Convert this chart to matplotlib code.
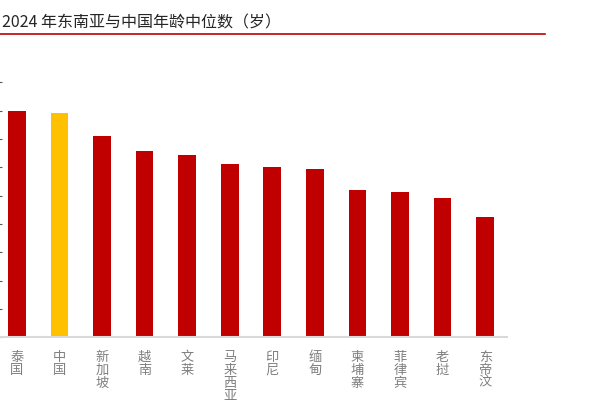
import numpy as np
import matplotlib
matplotlib.use("Agg")
import matplotlib.pyplot as plt

plt.rcParams['font.family'] = ['Noto Sans CJK SC', 'DejaVu Sans']

# datos
paises = ["泰国", "中国", "新加坡", "越南", "文莱", "马来西亚", "印尼", "缅甸",
          "柬埔寨", "菲律宾", "老挝", "东帝汶"]
edad_mediana = [40.0, 39.5, 35.5, 32.8, 32.2, 30.5, 30.0, 29.7, 25.9, 25.6, 24.5, 21.2]
titulo = "2024 年东南亚与中国年龄中位数（岁）"

rojo = "#C00000"
amarillo = "#FFC000"
colores = [amarillo if p == "中国" else rojo for p in paises]

fig = plt.figure(figsize=(6.16, 4.14), dpi=100)
ax = fig.add_axes([-4.5 / 616, 0.1829, 511 / 616, 0.616])

x = np.arange(len(paises))
ax.bar(x, edad_mediana, width=0.415, color=colores)

ax.set_xlim(-0.5, len(paises) - 0.5)
ax.set_ylim(0, 45)
ax.set_yticks(np.arange(0, 46, 5))
ax.set_yticklabels([])
ax.tick_params(axis='y', direction='in', length=4.5, width=0.8, color="#595959")

# etiquetas verticales, un caracter por linea
ax.set_xticks(x)
ax.set_xticklabels(["\n".join(p) for p in paises], fontsize=9.5, color="#7F7F7F",
                   linespacing=1.0, va='top')
ax.tick_params(axis='x', length=0, pad=9)

for lado in ['top', 'right', 'left']:
    ax.spines[lado].set_visible(False)
ax.spines['bottom'].set_color("#D9D9D9")
ax.spines['bottom'].set_linewidth(1.5)

# titulo y linea roja
fig.text(2 / 616, 1 - 22.5 / 414, titulo, fontsize=11.5, color="#262626", va='center', ha='left')
fig.add_artist(plt.Line2D([0, 545 / 616], [1 - 35 / 414] * 2, color=rojo, linewidth=1.2))

fig.savefig("out.png", dpi=100, facecolor="white")
